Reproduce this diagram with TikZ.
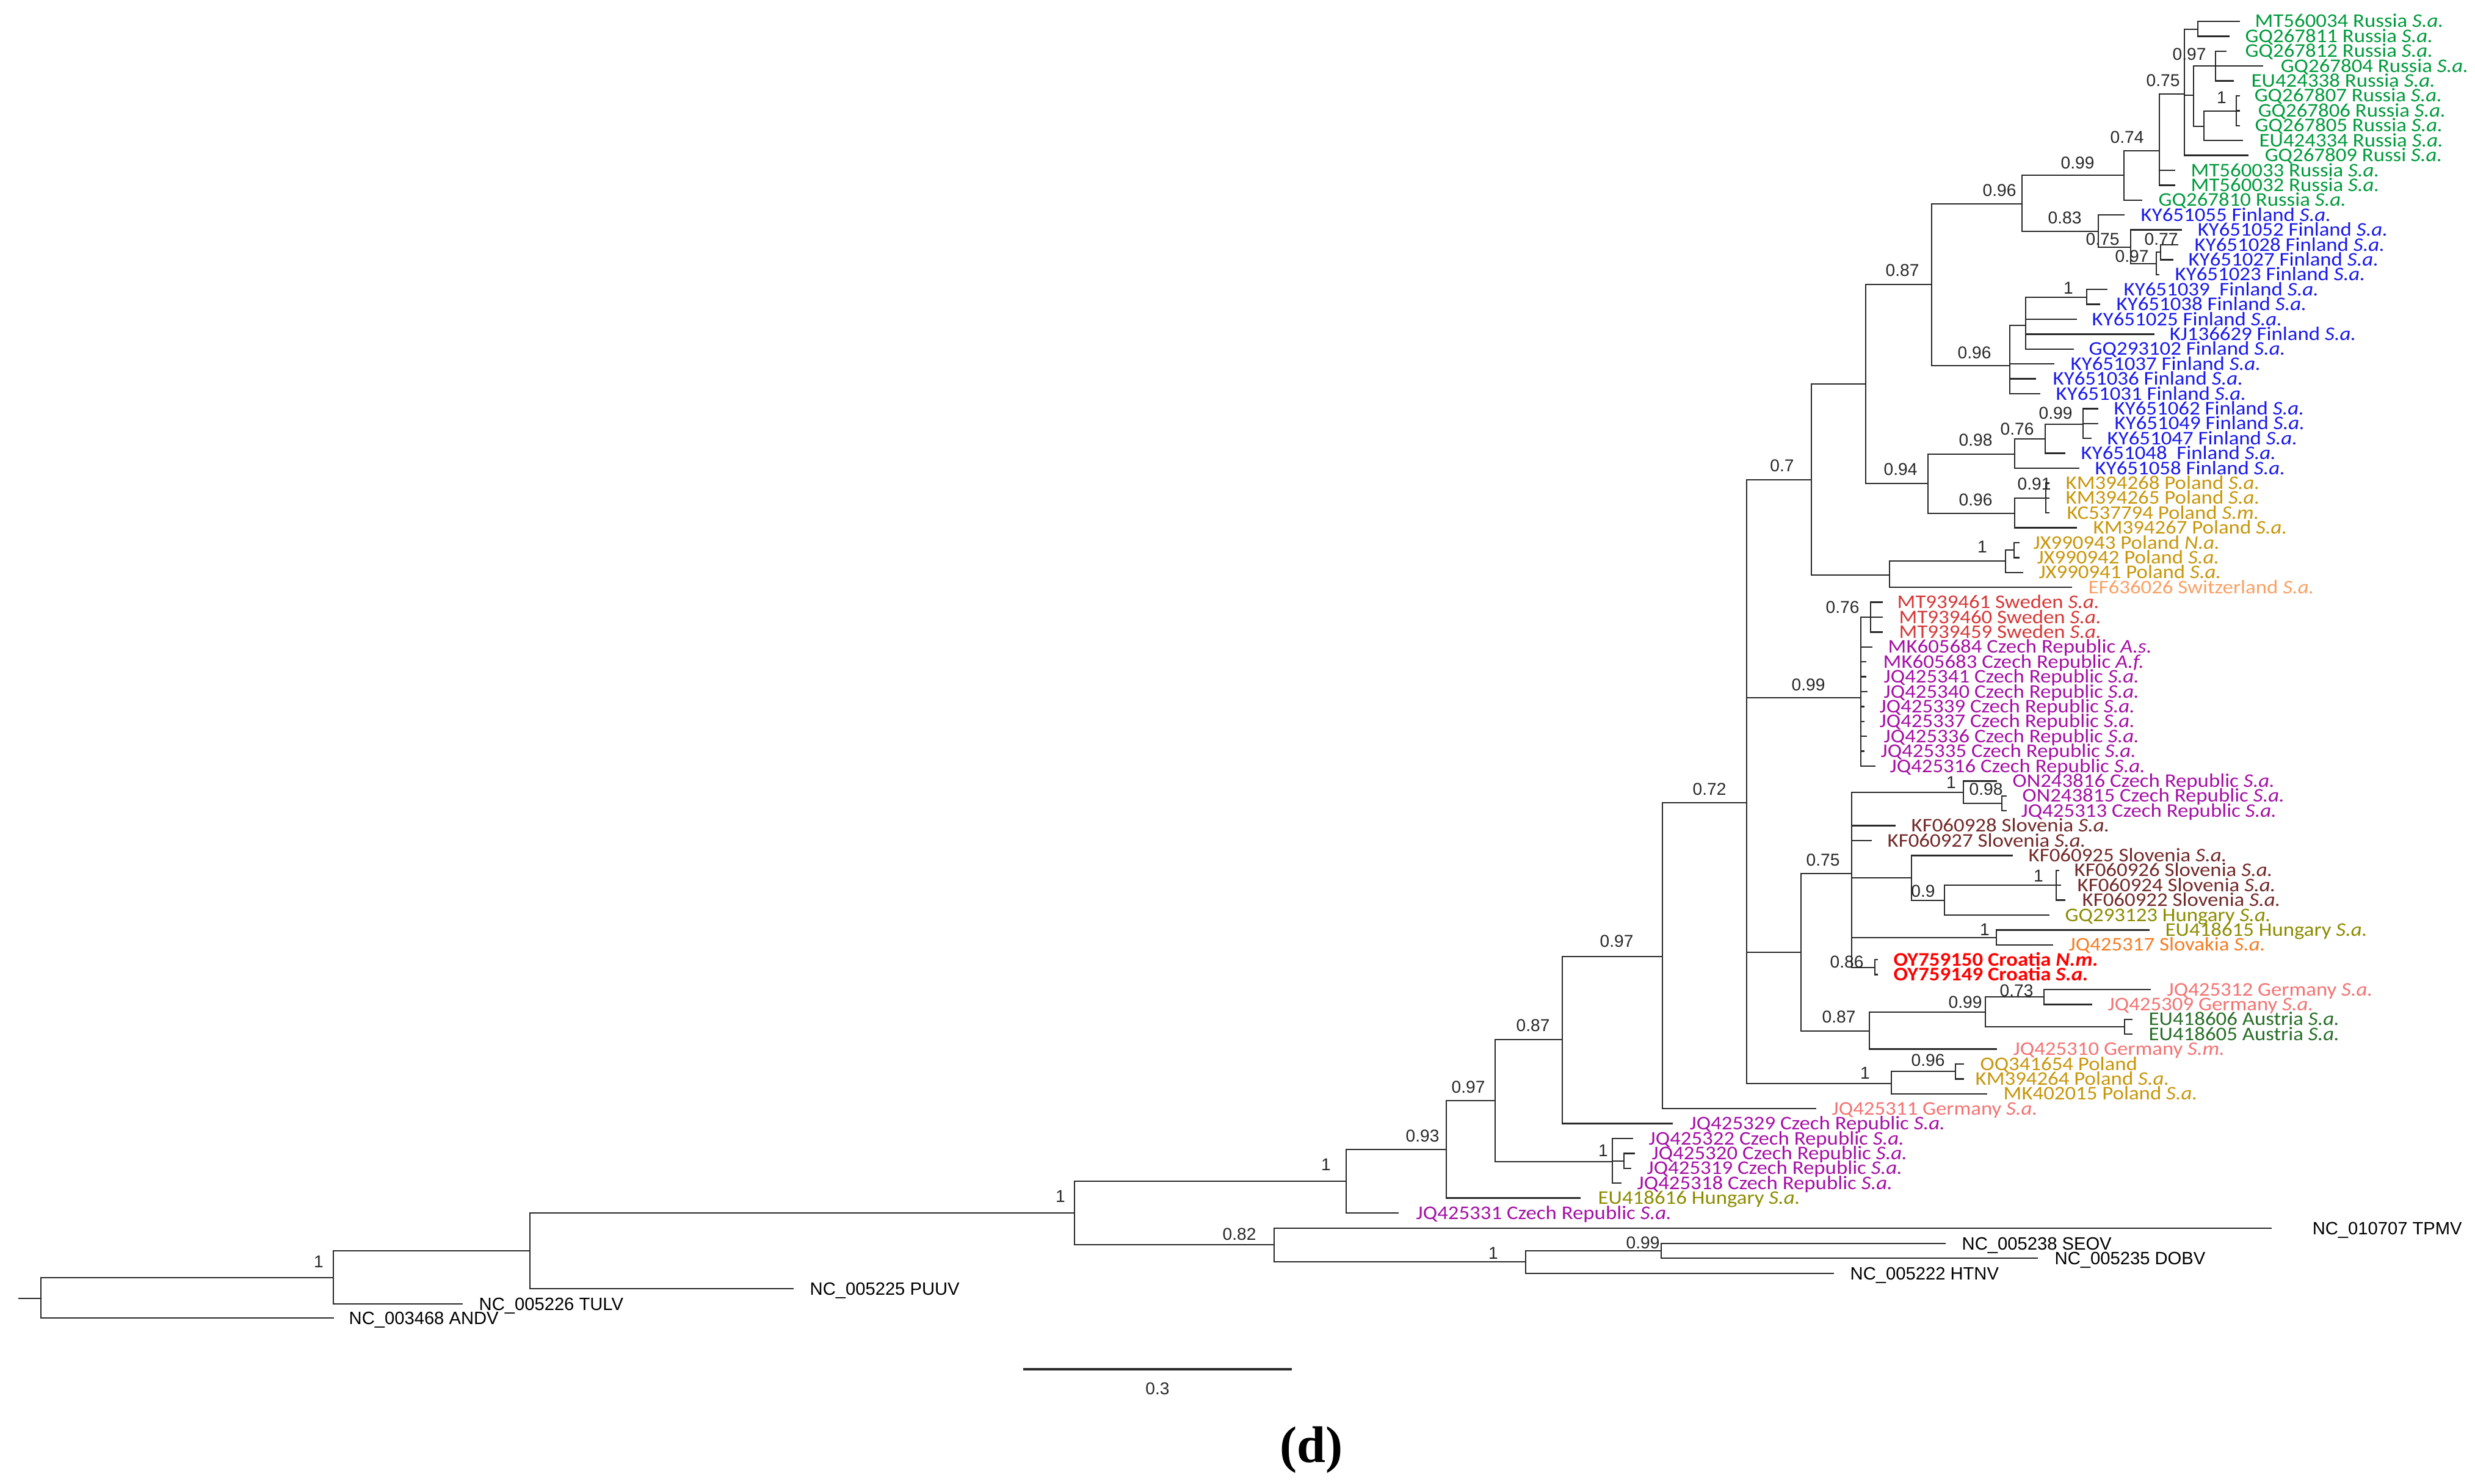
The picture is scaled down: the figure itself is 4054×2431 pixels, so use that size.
\documentclass[tikz,border=0pt]{standalone}
\usepackage{fontspec}
\setmainfont{Liberation Sans}
\newfontfamily\labfont[FakeStretch=1.1]{Carlito}
\newfontfamily\supfont{Liberation Sans}
\newfontfamily\capfont{Liberation Serif}
\definecolor{cRus}{RGB}{0,155,60}
\definecolor{cFin}{RGB}{25,25,235}
\definecolor{cPol}{RGB}{200,150,10}
\definecolor{cSwi}{RGB}{250,160,100}
\definecolor{cSwe}{RGB}{215,55,55}
\definecolor{cCze}{RGB}{165,15,165}
\definecolor{cSlo}{RGB}{115,40,40}
\definecolor{cHun}{RGB}{140,140,0}
\definecolor{cSvk}{RGB}{245,125,35}
\definecolor{cCro}{RGB}{255,0,0}
\definecolor{cGer}{RGB}{245,115,115}
\definecolor{cAut}{RGB}{40,110,40}
\definecolor{cLine}{RGB}{40,40,40}
\newcommand{\spSA}{\textit{S.a.}}
\newcommand{\tip}[6]{\coordinate (#1) at (#2,#3); \node[lab,text=#5] (#1l) at (#4,#3) {#6};}
\newcommand{\ogtip}[5]{\coordinate (#1) at (#2,#3); \node[og] (#1l) at (#4,#3) {#5};}
\tikzset{
  br/.style={draw=cLine, line width=0.7pt, line cap=rect},
  lab/.style={anchor=base west, inner sep=0pt, yshift=-0.1cm, font=\labfont\fontsize{9}{9}\selectfont},
  og/.style={anchor=base west, inner sep=0pt, yshift=-0.1cm, font=\supfont\fontsize{8.3}{8.3}\selectfont, text=black},
  sup/.style={inner sep=0pt, font=\supfont\fontsize{8}{8}\selectfont, text=cLine},
}
\begin{document}
\begin{tikzpicture}[x=0.01cm, y=-0.01cm]
\useasboundingbox (0,0) rectangle (4054,2431);
\fill[white] (0,0) rectangle (4054,2431);
% internal nodes
\coordinate (stub) at (31,2127);
\coordinate (r) at (67,2127);
\coordinate (n546) at (546,2093);
\coordinate (n868) at (868,2049);
\coordinate (n1760) at (1760,1987);
\coordinate (nOG) at (2087,2039);
\coordinate (nOG2) at (2499,2067);
\coordinate (nOG3) at (2721,2049);
\coordinate (nA) at (2205,1935);
\coordinate (nB) at (2369,1883);
\coordinate (nC) at (2449,1803);
\coordinate (nD) at (2559,1703);
\coordinate (nE) at (2641,1903);
\coordinate (nE2) at (2660,1902);
\coordinate (nF) at (2723,1567);
\coordinate (nG) at (2861,1315);
\coordinate (nH) at (2967,786);
\coordinate (nI) at (3048,1143);
\coordinate (nJ) at (2950,1560);
\coordinate (nK) at (3098,1775);
\coordinate (nZ) at (3056,629);
\coordinate (nAA) at (3095,942);
\coordinate (nBB) at (3164,466);
\coordinate (nCC) at (3158,792);
\coordinate (nDD) at (3312,334);
\coordinate (nEE) at (3292,599);
\coordinate (nOO) at (3479,287);
\coordinate (nPP) at (3437,379);
\coordinate (nQQ) at (3537,247);
\coordinate (nRR) at (3578,154);
\coordinate (nSS) at (3600,48);
\coordinate (nUU) at (3593,156);
\coordinate (nVV) at (3629,108);
\coordinate (nWW) at (3610,207);
\coordinate (nXX) at (3663,182);
\coordinate (nYY) at (3490,405);
\coordinate (nZZ) at (3532,432);
\coordinate (nAAA) at (3539,413);
\coordinate (nMM) at (3318,533);
\coordinate (nNN) at (3418,487);
\coordinate (nFF) at (3300,744);
\coordinate (nGG) at (3300,841);
\coordinate (nJJ) at (3350,719);
\coordinate (nKK) at (3412,695);
\coordinate (nLL) at (3351,816);
\coordinate (nHH) at (3285,919);
\coordinate (nII) at (3299,901);
\coordinate (nY) at (3064,1011);
\coordinate (nL) at (3033,1431);
\coordinate (nM) at (3062,1689);
\coordinate (nN) at (3216,1298);
\coordinate (nR) at (3279,1316);
\coordinate (nO) at (3131,1438);
\coordinate (nS) at (3185,1475);
\coordinate (nT) at (3368,1450);
\coordinate (nP) at (3270,1536);
\coordinate (nQ) at (3071,1585);
\coordinate (nU) at (3252,1658);
\coordinate (nV) at (3348,1633);
\coordinate (nW) at (3480,1682);
\coordinate (nX) at (3203,1755);
% tips
\tip{t0}{3668}{35}{3693}{cRus}{MT560034 Russia \spSA}
\tip{t1}{3651}{59.4}{3677}{cRus}{GQ267811 Russia \spSA}
\tip{t2}{3646}{83.8}{3677}{cRus}{GQ267812 Russia \spSA}
\tip{t3}{3706}{108.2}{3735}{cRus}{GQ267804 Russia \spSA}
\tip{t4}{3658}{132.6}{3687}{cRus}{EU424338 Russia \spSA}
\tip{t5}{3668}{157}{3692}{cRus}{GQ267807 Russia \spSA}
\tip{t6}{3668}{181.4}{3698}{cRus}{GQ267806 Russia \spSA}
\tip{t7}{3668}{205.8}{3693}{cRus}{GQ267805 Russia \spSA}
\tip{t8}{3673}{230.2}{3700}{cRus}{EU424334 Russia \spSA}
\tip{t9}{3682}{254.6}{3709}{cRus}{GQ267809 Russi \spSA}
\tip{t10}{3562}{279}{3588}{cRus}{MT560033 Russia \spSA}
\tip{t11}{3562}{303.4}{3588}{cRus}{MT560032 Russia \spSA}
\tip{t12}{3508}{327.8}{3535}{cRus}{GQ267810 Russia \spSA}
\tip{t13}{3479}{352.2}{3506}{cFin}{KY651055 Finland \spSA}
\tip{t14}{3573}{376.6}{3599}{cFin}{KY651052 Finland \spSA}
\tip{t15}{3567}{401}{3594}{cFin}{KY651028 Finland \spSA}
\tip{t16}{3559}{425.4}{3584}{cFin}{KY651027 Finland \spSA}
\tip{t17}{3536}{449.8}{3562}{cFin}{KY651023 Finland \spSA}
\tip{t18}{3451}{474.2}{3478}{cFin}{KY651039~ Finland \spSA}
\tip{t19}{3439}{498.6}{3466}{cFin}{KY651038 Finland \spSA}
\tip{t20}{3401}{523}{3426}{cFin}{KY651025 Finland \spSA}
\tip{t21}{3528}{547.4}{3553}{cFin}{KJ136629 Finland \spSA}
\tip{t22}{3396}{571.8}{3421}{cFin}{GQ293102 Finland \spSA}
\tip{t23}{3364}{596.2}{3391}{cFin}{KY651037 Finland \spSA}
\tip{t24}{3334}{620.6}{3362}{cFin}{KY651036 Finland \spSA}
\tip{t25}{3341}{645}{3367}{cFin}{KY651031 Finland \spSA}
\tip{t26}{3436}{669.4}{3462}{cFin}{KY651062 Finland \spSA}
\tip{t27}{3436}{693.8}{3463}{cFin}{KY651049 Finland \spSA}
\tip{t28}{3425}{718.2}{3451}{cFin}{KY651047 Finland \spSA}
\tip{t29}{3382}{742.6}{3408}{cFin}{KY651048~ Finland \spSA}
\tip{t30}{3405}{767}{3431}{cFin}{KY651058 Finland \spSA}
\tip{t31}{3356}{791.4}{3383}{cPol}{KM394268 Poland \spSA}
\tip{t32}{3356}{815.8}{3383}{cPol}{KM394265 Poland \spSA}
\tip{t33}{3356}{840.2}{3385}{cPol}{KC537794 Poland \textit{S.m.}}
\tip{t34}{3401}{864.6}{3428}{cPol}{KM394267 Poland \spSA}
\tip{t35}{3307}{889}{3330}{cPol}{JX990943 Poland \textit{N.a.}}
\tip{t36}{3307}{913.4}{3336}{cPol}{JX990942 Poland \spSA}
\tip{t37}{3313}{937.8}{3339}{cPol}{JX990941 Poland \spSA}
\tip{t38}{3393}{962.2}{3420}{cSwi}{EF636026 Switzerland \spSA}
\tip{t39}{3083}{986.6}{3107}{cSwe}{MT939461 Sweden \spSA}
\tip{t40}{3083}{1011}{3110}{cSwe}{MT939460 Sweden \spSA}
\tip{t41}{3083}{1035.4}{3110}{cSwe}{MT939459 Sweden \spSA}
\tip{t42}{3066}{1059.8}{3092}{cCze}{MK605684 Czech Republic \textit{A.s.}}
\tip{t43}{3056}{1084.2}{3084}{cCze}{MK605683 Czech Republic \textit{A.f.}}
\tip{t44}{3056}{1108.6}{3085}{cCze}{JQ425341 Czech Republic \spSA}
\tip{t45}{3058}{1133}{3085}{cCze}{JQ425340 Czech Republic \spSA}
\tip{t46}{3053}{1157.4}{3078}{cCze}{JQ425339 Czech Republic \spSA}
\tip{t47}{3053}{1181.8}{3078}{cCze}{JQ425337 Czech Republic \spSA}
\tip{t48}{3057}{1206.2}{3085}{cCze}{JQ425336 Czech Republic \spSA}
\tip{t49}{3053}{1230.6}{3080}{cCze}{JQ425335 Czech Republic \spSA}
\tip{t50}{3071}{1255}{3095}{cCze}{JQ425316 Czech Republic \spSA}
\tip{t51}{3270}{1279.4}{3296}{cCze}{ON243816 Czech Republic \spSA}
\tip{t52}{3286}{1303.8}{3312}{cCze}{ON243815 Czech Republic \spSA}
\tip{t53}{3286}{1328.2}{3310}{cCze}{JQ425313 Czech Republic \spSA}
\tip{t54}{3104}{1352.6}{3130}{cSlo}{KF060928 Slovenia \spSA}
\tip{t55}{3065}{1377}{3091}{cSlo}{KF060927 Slovenia \spSA}
\tip{t56}{3296}{1401.4}{3322}{cSlo}{KF060925 Slovenia \spSA}
\tip{t57}{3372}{1425.8}{3397}{cSlo}{KF060926 Slovenia \spSA}
\tip{t58}{3375}{1450.2}{3402}{cSlo}{KF060924 Slovenia \spSA}
\tip{t59}{3382}{1474.6}{3410}{cSlo}{KF060922 Slovenia \spSA}
\tip{t60}{3356}{1499}{3382}{cHun}{GQ293123 Hungary \spSA}
\tip{t61}{3520}{1523.4}{3546}{cHun}{EU418615 Hungary \spSA}
\tip{t62}{3362}{1547.8}{3388}{cSvk}{JQ425317 Slovakia \spSA}
\tip{t63}{3075}{1572.2}{3101}{cCro}{\textbf{OY759150 Croatia \textit{N.m.}}}
\tip{t64}{3075}{1596.6}{3101}{cCro}{\textbf{OY759149 Croatia \textit{S.a.}}}
\tip{t65}{3522}{1621}{3549}{cGer}{JQ425312 Germany \spSA}
\tip{t66}{3426}{1645.4}{3452}{cGer}{JQ425309 Germany \spSA}
\tip{t67}{3492}{1669.8}{3519}{cAut}{EU418606 Austria \spSA}
\tip{t68}{3492}{1694.2}{3519}{cAut}{EU418605 Austria \spSA}
\tip{t69}{3270}{1718.6}{3297}{cGer}{JQ425310 Germany \textit{S.m.}}
\tip{t70}{3216}{1743}{3243}{cPol}{OQ341654 Poland}
\tip{t71}{3216}{1767.4}{3235}{cPol}{KM394264 Poland \spSA}
\tip{t72}{3254}{1791.8}{3281}{cPol}{MK402015 Poland \spSA}
\tip{t73}{2974}{1816.2}{3000}{cGer}{JQ425311 Germany \spSA}
\tip{t74}{2739}{1840.6}{2767}{cCze}{JQ425329 Czech Republic \spSA}
\tip{t75}{2674}{1865}{2700}{cCze}{JQ425322 Czech Republic \spSA}
\tip{t76}{2677}{1889.4}{2705}{cCze}{JQ425320 Czech Republic \spSA}
\tip{t77}{2671}{1913.8}{2697}{cCze}{JQ425319 Czech Republic \spSA}
\tip{t78}{2655}{1938.2}{2681}{cCze}{JQ425318 Czech Republic \spSA}
\tip{t79}{2588}{1962.6}{2617}{cHun}{EU418616 Hungary \spSA}
\tip{t80}{2290}{1987}{2319}{cCze}{JQ425331 Czech Republic \spSA}
% outgroups
\ogtip{tpmv}{3720}{2012}{3787}{NC\_010707 TPMV}
\ogtip{seov}{3186}{2037}{3213}{NC\_005238 SEOV}
\ogtip{dobv}{3337}{2061}{3365}{NC\_005235 DOBV}
\ogtip{htnv}{3003}{2086}{3030}{NC\_005222 HTNV}
\ogtip{puuv}{1299}{2111}{1326}{NC\_005225 PUUV}
\ogtip{tulv}{757}{2136}{784}{NC\_005226 TULV}
\ogtip{andv}{546}{2159}{571}{NC\_003468 ANDV}
% branches
\draw[br] (stub) -- (r);
\foreach \p/\c in {r/n546, r/andv, n546/n868, n546/tulv, n868/n1760, n868/puuv,
  n1760/nA, n1760/nOG, nOG/tpmv, nOG/nOG2, nOG2/nOG3, nOG2/htnv, nOG3/seov, nOG3/dobv,
  nA/nB, nA/t80, nB/nC, nB/t79, nC/nD, nC/nE, nE/t75, nE/nE2, nE/t78, nE2/t76, nE2/t77,
  nD/nF, nD/t74, nF/nG, nF/t73, nG/nH, nG/nI, nG/nJ, nG/nK,
  nH/nZ, nH/nAA, nZ/nBB, nZ/nCC, nBB/nDD, nBB/nEE, nDD/nOO, nDD/nPP,
  nOO/nQQ, nOO/t12, nQQ/nRR, nQQ/t10, nQQ/t11, nRR/nSS, nRR/nUU, nRR/t9,
  nSS/t0, nSS/t1, nUU/nVV, nUU/nWW, nVV/t2, nVV/t3, nVV/t4, nWW/nXX, nWW/t8,
  nXX/t5, nXX/t6, nXX/t7, nPP/t13, nPP/nYY, nYY/t14, nYY/nZZ, nZZ/nAAA, nZZ/t17,
  nAAA/t15, nAAA/t16, nEE/nMM, nEE/t23, nEE/t24, nEE/t25, nMM/nNN, nMM/t20, nMM/t21, nMM/t22,
  nNN/t18, nNN/t19, nCC/nFF, nCC/nGG, nFF/nJJ, nFF/t30, nJJ/nKK, nJJ/t29,
  nKK/t26, nKK/t27, nKK/t28, nGG/nLL, nGG/t34, nLL/t31, nLL/t32, nLL/t33,
  nAA/nHH, nAA/t38, nHH/nII, nHH/t37, nII/t35, nII/t36,
  nI/nY, nI/t42, nI/t43, nI/t44, nI/t45, nI/t46, nI/t47, nI/t48, nI/t49, nI/t50,
  nY/t39, nY/t40, nY/t41, nJ/nL, nJ/nM,
  nL/nN, nL/t54, nL/t55, nL/nO, nL/nP, nL/nQ, nN/t51, nN/nR, nR/t52, nR/t53,
  nO/t56, nO/nS, nS/nT, nS/t60, nT/t57, nT/t58, nT/t59, nP/t61, nP/t62, nQ/t63, nQ/t64,
  nM/nU, nM/t69, nU/nV, nU/nW, nV/t65, nV/t66, nW/t67, nW/t68,
  nK/nX, nK/t72, nX/t70, nX/t71}
  \draw[br] (\p) |- (\c);
% support values
\node[sup] (s1) at (3586,89) {0.97};
\node[sup] (s2) at (3543,132) {0.75};
\node[sup] (s3) at (3639,160) {1};
\node[sup] (s4) at (3484,225) {0.74};
\node[sup] (s5) at (3403,267) {0.99};
\node[sup] (s6) at (3275,312) {0.96};
\node[sup] (s7) at (3382,357) {0.83};
\node[sup] (s8) at (3444,392) {0.75};
\node[sup] (s9) at (3540,392) {0.77};
\node[sup] (s10) at (3492,420) {0.97};
\node[sup] (s11) at (3388,472) {1};
\node[sup] (s12) at (3116,443) {0.87};
\node[sup] (s13) at (3234,578) {0.96};
\node[sup] (s14) at (3367,677) {0.99};
\node[sup] (s15) at (3304,703) {0.76};
\node[sup] (s16) at (3236,721) {0.98};
\node[sup] (s17) at (2919,763) {0.7};
\node[sup] (s18) at (3113,769) {0.94};
\node[sup] (s19) at (3332,793) {0.91};
\node[sup] (s20) at (3236,819) {0.96};
\node[sup] (s21) at (3247,896) {1};
\node[sup] (s22) at (3018,995) {0.76};
\node[sup] (s23) at (2962,1122) {0.99};
\node[sup] (s24) at (3196,1282) {1};
\node[sup] (s25) at (3253,1293) {0.98};
\node[sup] (s26) at (2800,1293) {0.72};
\node[sup] (s27) at (2986,1409) {0.75};
\node[sup] (s28) at (3339,1435) {1};
\node[sup] (s29) at (3150,1460) {0.9};
\node[sup] (s30) at (3251,1523) {1};
\node[sup] (s31) at (2648,1542) {0.97};
\node[sup] (s32) at (3025,1576) {0.86};
\node[sup] (s33) at (3303,1623) {0.73};
\node[sup] (s34) at (3219,1642) {0.99};
\node[sup] (s35) at (3012,1666) {0.87};
\node[sup] (s36) at (2511,1680) {0.87};
\node[sup] (s37) at (3158,1737) {0.96};
\node[sup] (s38) at (3055,1758) {1};
\node[sup] (s39) at (2405,1781) {0.97};
\node[sup] (s40) at (2330,1861) {0.93};
\node[sup] (s41) at (2626,1885) {1};
\node[sup] (s42) at (2172,1908) {1};
\node[sup] (s43) at (1737,1960) {1};
\node[sup] (s44) at (2030,2022) {0.82};
\node[sup] (s45) at (2691,2036) {0.99};
\node[sup] (s46) at (2446,2053) {1};
\node[sup] (s47) at (522,2067) {1};
% scale bar
\coordinate (sb1) at (1676,2243);
\coordinate (sb2) at (2116,2243);
\draw[draw=cLine, line width=1pt] (sb1) -- (sb2);
\node[sup] (sbl) at (1896,2275) {0.3};
% panel letter
\node[inner sep=0pt, font=\capfont\bfseries\fontsize{24}{24}\selectfont] (pl) at (2148,2375) {(d)};
\end{tikzpicture}
\end{document}
